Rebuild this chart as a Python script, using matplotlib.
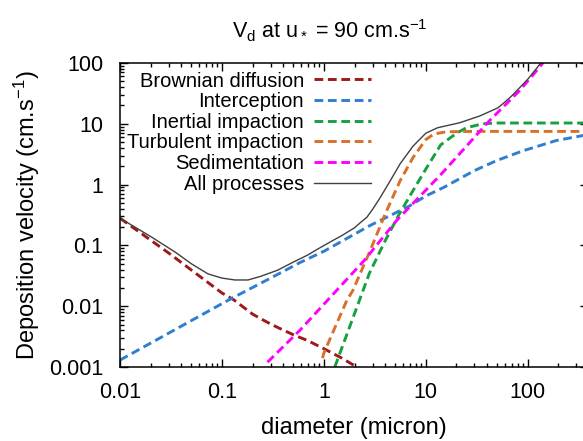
import numpy as np
import matplotlib.pyplot as plt
from matplotlib.ticker import LogLocator, FuncFormatter, NullFormatter

plt.rcParams['font.family'] = ['Liberation Sans', 'DejaVu Sans']
plt.rcParams['mathtext.fontset'] = 'custom'
plt.rcParams['mathtext.rm'] = 'Liberation Sans'
plt.rcParams['mathtext.it'] = 'Liberation Sans'

# curves: diameter (micron), deposition velocity (cm/s)
brown_d = [0.01, 0.03, 0.1, 0.13, 0.2, 0.25, 0.3, 0.37, 0.5, 0.7, 1.0, 1.5, 2.0, 2.2]
brown_v = [0.28, 0.075, 0.0165, 0.0128, 0.0074, 0.006, 0.0051, 0.0043, 0.0034, 0.0027, 0.002, 0.0014, 0.00105, 0.00095]

interc_d = [0.01, 0.03, 0.1, 0.12, 0.3, 0.58, 1.0, 2.8, 7.0, 10, 15, 30, 50, 90, 190, 400]
interc_v = [0.0013, 0.0036, 0.011, 0.013, 0.029, 0.052, 0.08, 0.21, 0.45, 0.65, 0.9, 1.7, 2.5, 3.6, 5.3, 6.7]

inert_d = [1.28, 1.9, 2.8, 4.0, 5.5, 7.5, 10, 14, 20, 25, 36, 50, 100, 400]
inert_v = [0.001, 0.006, 0.035, 0.12, 0.33, 0.8, 1.8, 4.5, 7.0, 8.6, 10.0, 10.3, 10.3, 10.3]

turb_d = [0.97, 1.0, 1.68, 1.92, 2.8, 4.0, 5.6, 7.5, 10, 12, 16, 30, 400]
turb_v = [0.0014, 0.0017, 0.0125, 0.018, 0.077, 0.33, 1.16, 2.8, 5.5, 6.8, 7.4, 7.5, 7.5]

sedim_d = [0.28, 0.58, 2.5, 5.2, 13.7, 42, 83, 131, 150]
sedim_v = [0.0012, 0.004, 0.057, 0.26, 1.4, 11.2, 35, 86, 115]

all_d = [0.01, 0.02, 0.035, 0.05, 0.073, 0.1, 0.134, 0.18, 0.24, 0.35, 0.5, 0.7, 0.87, 1.22,
         1.5, 2.0, 2.3, 2.64, 3.0, 3.5, 4.4, 5.6, 7.5, 10, 13, 21.5, 34, 51, 60, 70, 78, 100, 123, 140]
all_v = [0.28, 0.14, 0.077, 0.05, 0.034, 0.029, 0.027, 0.027, 0.031, 0.039, 0.053, 0.07, 0.087, 0.12,
         0.145, 0.195, 0.24, 0.29, 0.39, 0.58, 1.1, 2.2, 4.3, 7.0, 8.6, 10.4, 13.5, 18.3, 23, 29, 35, 54, 83, 110]

fig = plt.figure(figsize=(5.83, 4.41), dpi=100)
ax = fig.add_axes([120/583, 74/441, 468/583, 304/441])

dash = (3, 1.6)
ax.plot(brown_d, brown_v, color='#a01818', lw=2.1, dashes=dash, label='Brownian diffusion')
ax.plot(interc_d, interc_v, color='#2f7fd0', lw=2.1, dashes=dash, label='Interception')
ax.plot(inert_d, inert_v, color='#17a040', lw=2.1, dashes=dash, label='Inertial impaction')
ax.plot(turb_d, turb_v, color='#d8702a', lw=2.1, dashes=dash, label='Turbulent impaction')
ax.plot(sedim_d, sedim_v, color='#ff00ff', lw=2.1, dashes=dash, label='Sedimentation')
ax.plot(all_d, all_v, color='#404040', lw=1.0, label='All processes')

ax.set_xscale('log')
ax.set_yscale('log')
ax.set_xlim(0.01, 390)
ax.set_ylim(0.001, 100)

fmt = FuncFormatter(lambda v, p: '%g' % v)
ax.xaxis.set_major_formatter(fmt)
ax.yaxis.set_major_formatter(fmt)
ax.xaxis.set_minor_locator(LogLocator(base=10, subs=np.arange(2, 10), numticks=20))
ax.yaxis.set_minor_locator(LogLocator(base=10, subs=np.arange(2, 10), numticks=20))
ax.xaxis.set_minor_formatter(NullFormatter())
ax.yaxis.set_minor_formatter(NullFormatter())
ax.tick_params(which='both', direction='in', top=True, right=True, labelsize=15.5, width=1)
ax.tick_params(which='major', length=6)
ax.tick_params(which='minor', length=3)
ax.tick_params(axis='x', pad=11)
ax.tick_params(axis='y', pad=12)
for s in ax.spines.values():
    s.set_linewidth(1.1)

ax.set_xlabel('diameter (micron)', fontsize=17, labelpad=10)
ax.set_ylabel('Deposition velocity (cm.s$^{-1}$)', fontsize=17, labelpad=5)

fig.text(330/583, 1 - 38/441, 'V$_\\mathrm{d}$ at u$_*$ = 90 cm.s$^{-1}$', fontsize=15.5,
         ha='center', va='baseline')

leg = ax.legend(loc='upper right', bbox_to_anchor=(0.537, 0.972), frameon=False,
                markerfirst=False, fontsize=14.5, handlelength=2.85, handletextpad=0.5,
                labelspacing=0.08, borderpad=0, borderaxespad=0)

fig.savefig('out.png', dpi=100)
